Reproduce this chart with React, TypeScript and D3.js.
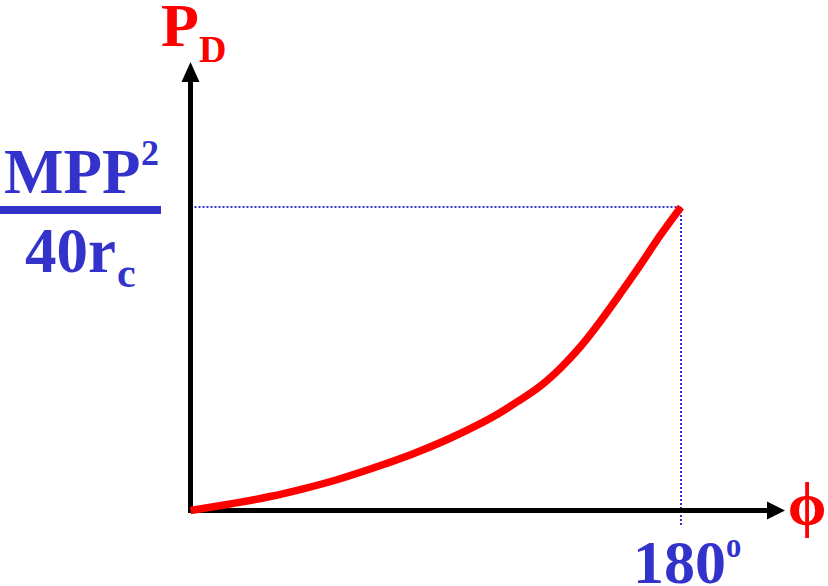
import React from "react";
import * as d3 from "d3";

const phiDeg = [0, 17.1, 29.2, 41.3, 53.8, 69.5, 81.7, 94.1, 106.2, 113.6, 120.9, 128.3, 135.6, 142.9, 150.3, 157.6, 165.0, 172.3, 180];
const power = [0, 0.025, 0.045, 0.071, 0.1, 0.147, 0.186, 0.232, 0.285, 0.321, 0.364, 0.407, 0.466, 0.535, 0.621, 0.713, 0.806, 0.908, 1.0];
const xTickLabel = "180";
const yTickNum = ["MPP", "2"];
const yTickDen = ["40r", "c"];

const W = 828;
const H = 586;
const BLUE = "#3333cc";
const RED = "#ff0000";
const FONT = "'Liberation Serif', 'Times New Roman', serif";

export default function App() {
  const x = d3.scaleLinear().domain([0, 180]).range([190.5, 681]);
  const y = d3.scaleLinear().domain([0, 1]).range([510.5, 207]);
  const line = d3
    .line<number>()
    .x((_, i) => x(phiDeg[i]))
    .y((d) => y(d))
    .curve(d3.curveBasis);
  const ox = x(0);
  const oy = y(0);
  const xe = x(180);
  const ye = y(1);

  return (
    <svg
      width={W}
      height={H}
      style={{ position: "absolute", left: 0, top: 0, display: "block", background: "#fff" }}
      fontFamily={FONT}
    >
      {/* dotted guides */}
      <line x1={ox} x2={xe} y1={ye} y2={ye} stroke={BLUE} strokeWidth={2} strokeDasharray="2,2" />
      <line x1={xe} x2={xe} y1={ye} y2={526} stroke={BLUE} strokeWidth={2} strokeDasharray="2,2" />

      {/* axes */}
      <line x1={ox} x2={ox} y1={oy + 2.5} y2={80} stroke="#000" strokeWidth={5} />
      <path d={`M${ox},62 L${ox - 9},82 L${ox + 9},82 Z`} fill="#000" />
      <line x1={ox - 2.5} x2={769} y1={oy} y2={oy} stroke="#000" strokeWidth={5} />
      <path d={`M785,${oy} L767,${oy - 9} L767,${oy + 9} Z`} fill="#000" />

      {/* curve */}
      <path d={line(power) || ""} fill="none" stroke={RED} strokeWidth={7.5} />

      {/* y axis title */}
      <text x={161} y={46} fill={RED} fontWeight="bold" fontSize={62}>P</text>
      <text x={199} y={62} fill={RED} fontWeight="bold" fontSize={38}>D</text>

      {/* y tick fraction */}
      <text x={4} y={193} fill={BLUE} fontWeight="bold" fontSize={63}>{yTickNum[0]}</text>
      <text x={141} y={165} fill={BLUE} fontWeight="bold" fontSize={36}>{yTickNum[1]}</text>
      <rect x={0} y={206} width={161} height={8} fill={BLUE} />
      <text x={25} y={272} fill={BLUE} fontWeight="bold" fontSize={63}>{yTickDen[0]}</text>
      <text x={117} y={287} fill={BLUE} fontWeight="bold" fontSize={42}>{yTickDen[1]}</text>

      {/* x tick */}
      <text x={633} y={583} fill={BLUE} fontWeight="bold" fontSize={62}>{xTickLabel}</text>
      <text transform="translate(726,557) scale(0.85,1)" fill={BLUE} fontWeight="bold" fontSize={36}>o</text>

      {/* x axis title */}
      <text x={807} y={525} fill={RED} fontWeight="bold" fontSize={62} textAnchor="middle">ϕ</text>
    </svg>
  );
}
